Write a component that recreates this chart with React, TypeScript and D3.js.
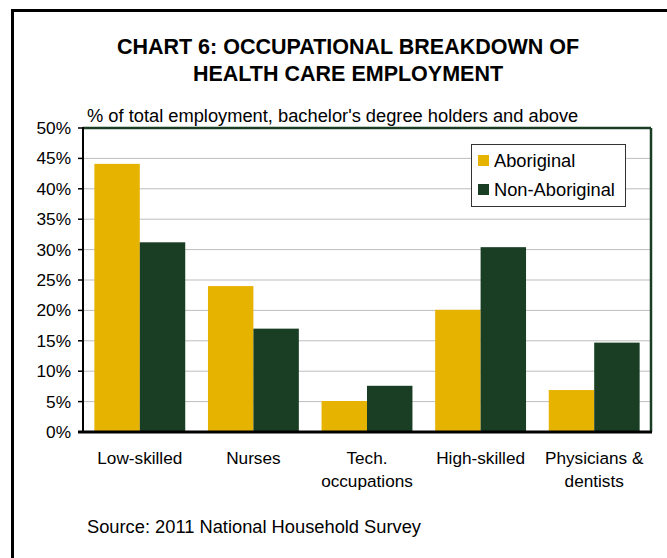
import React from "react";
import * as d3 from "d3";

const categories = [["Low-skilled"], ["Nurses"], ["Tech.", "occupations"], ["High-skilled"], ["Physicians &", "dentists"]];
const seriesNames = ["Aboriginal", "Non-Aboriginal"];
const aboriginal = [44.1, 24.0, 5.1, 20.1, 6.9];
const nonAboriginal = [31.2, 17.0, 7.6, 30.4, 14.7];
const yTicks = [0, 5, 10, 15, 20, 25, 30, 35, 40, 45, 50];
const colors = ["#E6B300", "#1A3E24"];

export default function App() {
  const W = 667, H = 558;
  const left = 83, right = 651, top = 128, bottom = 432;
  const x = d3.scaleBand<number>().domain(d3.range(categories.length)).range([left, right]).paddingInner(0.2).paddingOuter(0.1);
  const y = d3.scaleLinear().domain([0, 50]).range([bottom, top]);
  const inner = d3.scaleBand<number>().domain([0, 1]).range([0, x.bandwidth()]);
  const series = [aboriginal, nonAboriginal];
  const font = "'Liberation Sans', Arial, sans-serif";
  return (
    <svg width={W} height={H} style={{ position: "absolute", left: 0, top: 0 }} fontFamily={font}>
      <rect x={0} y={0} width={W} height={H} fill="#fff" />
      <line x1={12.5} y1={9} x2={12.5} y2={H} stroke="#000" strokeWidth={3} />
      <line x1={11} y1={10.5} x2={W} y2={10.5} stroke="#000" strokeWidth={3} />
      <text x={348} y={54} textAnchor="middle" fontSize={21.5} fontWeight="bold">CHART 6: OCCUPATIONAL BREAKDOWN OF</text>
      <text x={348} y={81} textAnchor="middle" fontSize={21.5} fontWeight="bold">HEALTH CARE EMPLOYMENT</text>
      <text x={87} y={122} fontSize={18.3}>% of total employment, bachelor's degree holders and above</text>
      {yTicks.map((t) => (
        <g key={t}>
          {t > 0 && t < 50 && <line x1={left} x2={right} y1={y(t)} y2={y(t)} stroke="#bdbdbd" strokeWidth={1} />}
          <line x1={left - 5} x2={left} y1={y(t)} y2={y(t)} stroke="#000" strokeWidth={1.5} />
          <text x={71} y={y(t) + 6} textAnchor="end" fontSize={17.3}>{t}%</text>
        </g>
      ))}
      {series.map((vals, si) =>
        vals.map((v, i) => (
          <rect key={`${si}-${i}`} x={(x(i) as number) + (inner(si) as number)} y={y(v)} width={inner.bandwidth()} height={bottom - y(v)} fill={colors[si]} />
        ))
      )}
      <line x1={left} x2={right} y1={top} y2={top} stroke="#1A3E24" strokeWidth={2.5} />
      <line x1={right} x2={right} y1={top} y2={bottom} stroke="#1A3E24" strokeWidth={2.5} />
      <line x1={left} x2={left} y1={top - 1} y2={bottom} stroke="#000" strokeWidth={2} />
      <line x1={left - 5} x2={right + 1} y1={bottom} y2={bottom} stroke="#000" strokeWidth={3} />
      {categories.map((lines, i) => (
        <text key={i} textAnchor="middle" fontSize={17.2}>
          {lines.map((l, j) => (
            <tspan key={j} x={(x(i) as number) + x.bandwidth() / 2} y={464 + j * 23}>{l}</tspan>
          ))}
        </text>
      ))}
      <rect x={471.5} y={144.5} width={154} height={62} fill="#fff" stroke="#333" strokeWidth={1} />
      {seriesNames.map((n, i) => (
        <g key={n}>
          <rect x={478} y={155 + i * 29} width={11} height={11} fill={colors[i]} />
          <text x={494} y={167 + i * 29} fontSize={18.3}>{n}</text>
        </g>
      ))}
      <text x={87} y={533} fontSize={18.3}>Source: 2011 National Household Survey</text>
    </svg>
  );
}
